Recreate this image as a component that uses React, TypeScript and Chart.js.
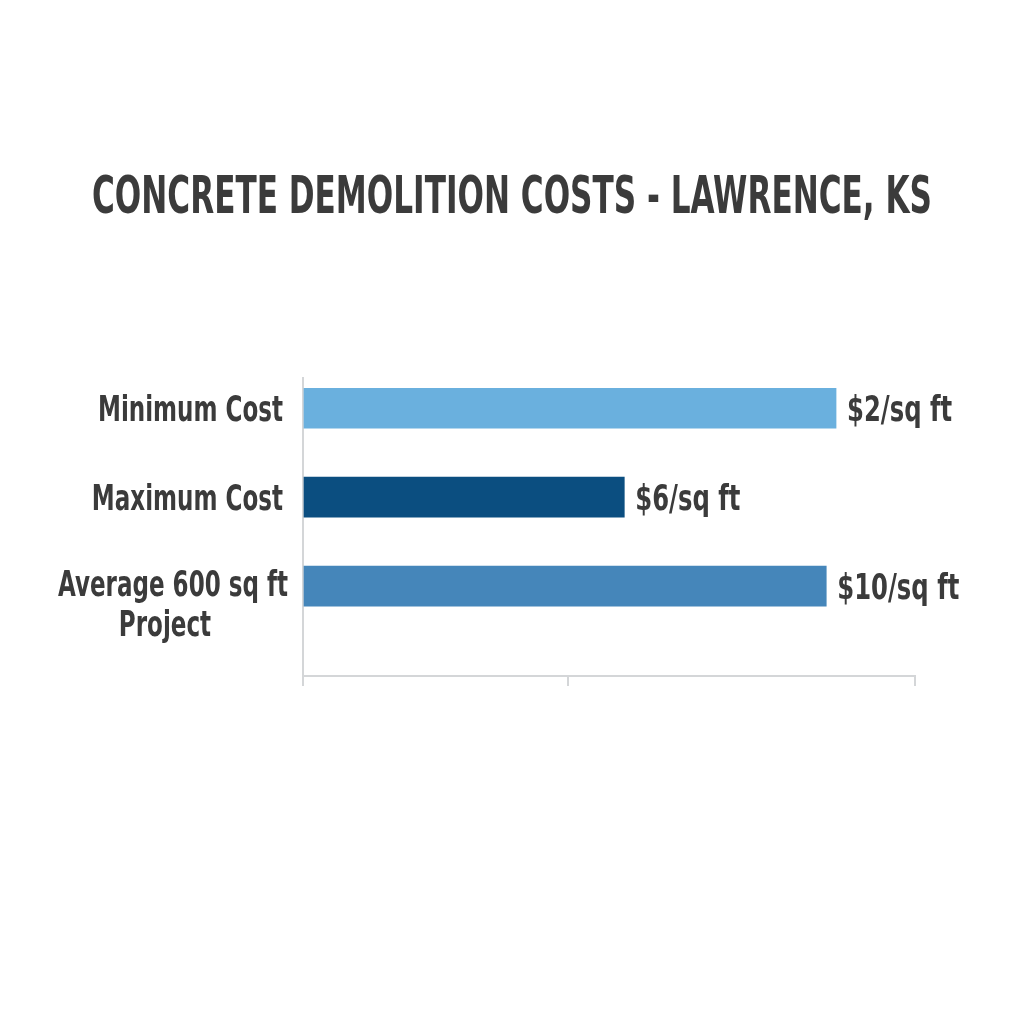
import { useEffect, useRef } from "react";
import { Chart, registerables } from "chart.js";

Chart.register(...registerables);

const chartTitle = "CONCRETE DEMOLITION COSTS - LAWRENCE, KS";
const categories: string[][] = [["Minimum Cost"], ["Maximum Cost"], ["Average 600 sq ft", "Project"]];
const barValues = [87.1, 52.5, 85.5];
const valueLabels = ["$2/sq ft", "$6/sq ft", "$10/sq ft"];
const barColors = ["#6AB0DE", "#0B4E80", "#4586BA"];
const xTickValues = [0, 43.3, 100];

const FONT_FAMILY = "'Liberation Sans Narrow', 'DejaVu Sans Condensed', 'Liberation Sans', sans-serif";
const TEXT_COLOR = "#3b3b3b";

function drawScaled(ctx: CanvasRenderingContext2D, text: string, x: number, y: number, align: CanvasTextAlign, sx: number) {
  ctx.save();
  ctx.translate(x, y);
  ctx.scale(sx, 1);
  ctx.textAlign = align;
  ctx.textBaseline = "alphabetic";
  ctx.fillText(text, 0, 0);
  ctx.restore();
}

const textPlugin = {
  id: "textPlugin",
  afterDraw(chart: any) {
    const ctx: CanvasRenderingContext2D = chart.ctx;
    const yScale = chart.scales.y;
    const xScale = chart.scales.x;
    ctx.save();
    ctx.fillStyle = TEXT_COLOR;
    // title
    ctx.font = `bold 52px ${FONT_FAMILY}`;
    const tw = ctx.measureText(chartTitle).width;
    const sx = 840 / tw;
    drawScaled(ctx, chartTitle, 512, 213, "center", sx);
    // category labels
    ctx.font = `bold 35px ${FONT_FAMILY}`;
    const catSx = sx * 1.1;
    const right = chart.chartArea.left - 20;
    categories.forEach((lines, i) => {
      const yc = yScale.getPixelForValue(i);
      if (lines.length === 1) {
        drawScaled(ctx, lines[0], right, yc + 12.5, "right", catSx);
      } else {
        const maxW = Math.max(...lines.map((l) => ctx.measureText(l).width)) * catSx;
        const cx = right + 5 - maxW / 2;
        lines.forEach((line, j) => {
          drawScaled(ctx, line, cx - j * 8, yc + 10 + j * 40, "center", catSx);
        });
      }
    });
    // value labels
    const valSx = sx * 1.16;
    valueLabels.forEach((lab, i) => {
      const yc = yScale.getPixelForValue(i);
      const xe = xScale.getPixelForValue(barValues[i]);
      drawScaled(ctx, lab, xe + 11, yc + 12.5, "left", valSx);
    });
    ctx.restore();
  },
};

export default function App() {
  const ref = useRef<HTMLCanvasElement>(null);
  useEffect(() => {
    document.body.style.margin = "0";
    document.body.style.background = "#ffffff";
    const canvas = ref.current!;
    const chart = new Chart(canvas, {
      type: "bar",
      data: {
        datasets: [
          {
            data: barValues.map((v, i) => ({ x: v, y: i })),
            backgroundColor: barColors,
            barThickness: 40,
            borderWidth: 0,
          },
        ],
      },
      options: {
        indexAxis: "y",
        responsive: false,
        animation: false,
        devicePixelRatio: 1,
        layout: { padding: { top: 378, left: 0, right: 109, bottom: 328 } },
        plugins: { legend: { display: false }, tooltip: { enabled: false }, title: { display: false } },
        scales: {
          y: {
            type: "linear",
            reverse: true,
            offset: false,
            min: -0.34,
            max: 3.01,
            afterBuildTicks: (s: any) => {
              s.ticks = categories.map((_, i) => ({ value: i }));
            },
            afterFit: (s: any) => {
              s.width = 303;
            },
            ticks: { display: false },
            grid: { display: false, offset: false },
            border: { display: true, color: "#d4d6d8", width: 2 },
          },
          x: {
            type: "linear",
            min: 0,
            max: 100,
            afterBuildTicks: (s: any) => {
              s.ticks = xTickValues.map((v) => ({ value: v }));
            },
            afterFit: (s: any) => {
              s.height = 20;
            },
            ticks: { display: false },
            grid: { display: true, drawOnChartArea: false, drawTicks: true, tickLength: 10, color: "#d4d6d8", lineWidth: 2 },
            border: { display: true, color: "#d4d6d8", width: 2 },
          },
        },
      },
      plugins: [textPlugin],
    } as any);
    return () => chart.destroy();
  }, []);
  return (
    <div style={{ width: 1024, height: 1024, background: "#fff" }}>
      <canvas ref={ref} width={1024} height={1024} />
    </div>
  );
}
